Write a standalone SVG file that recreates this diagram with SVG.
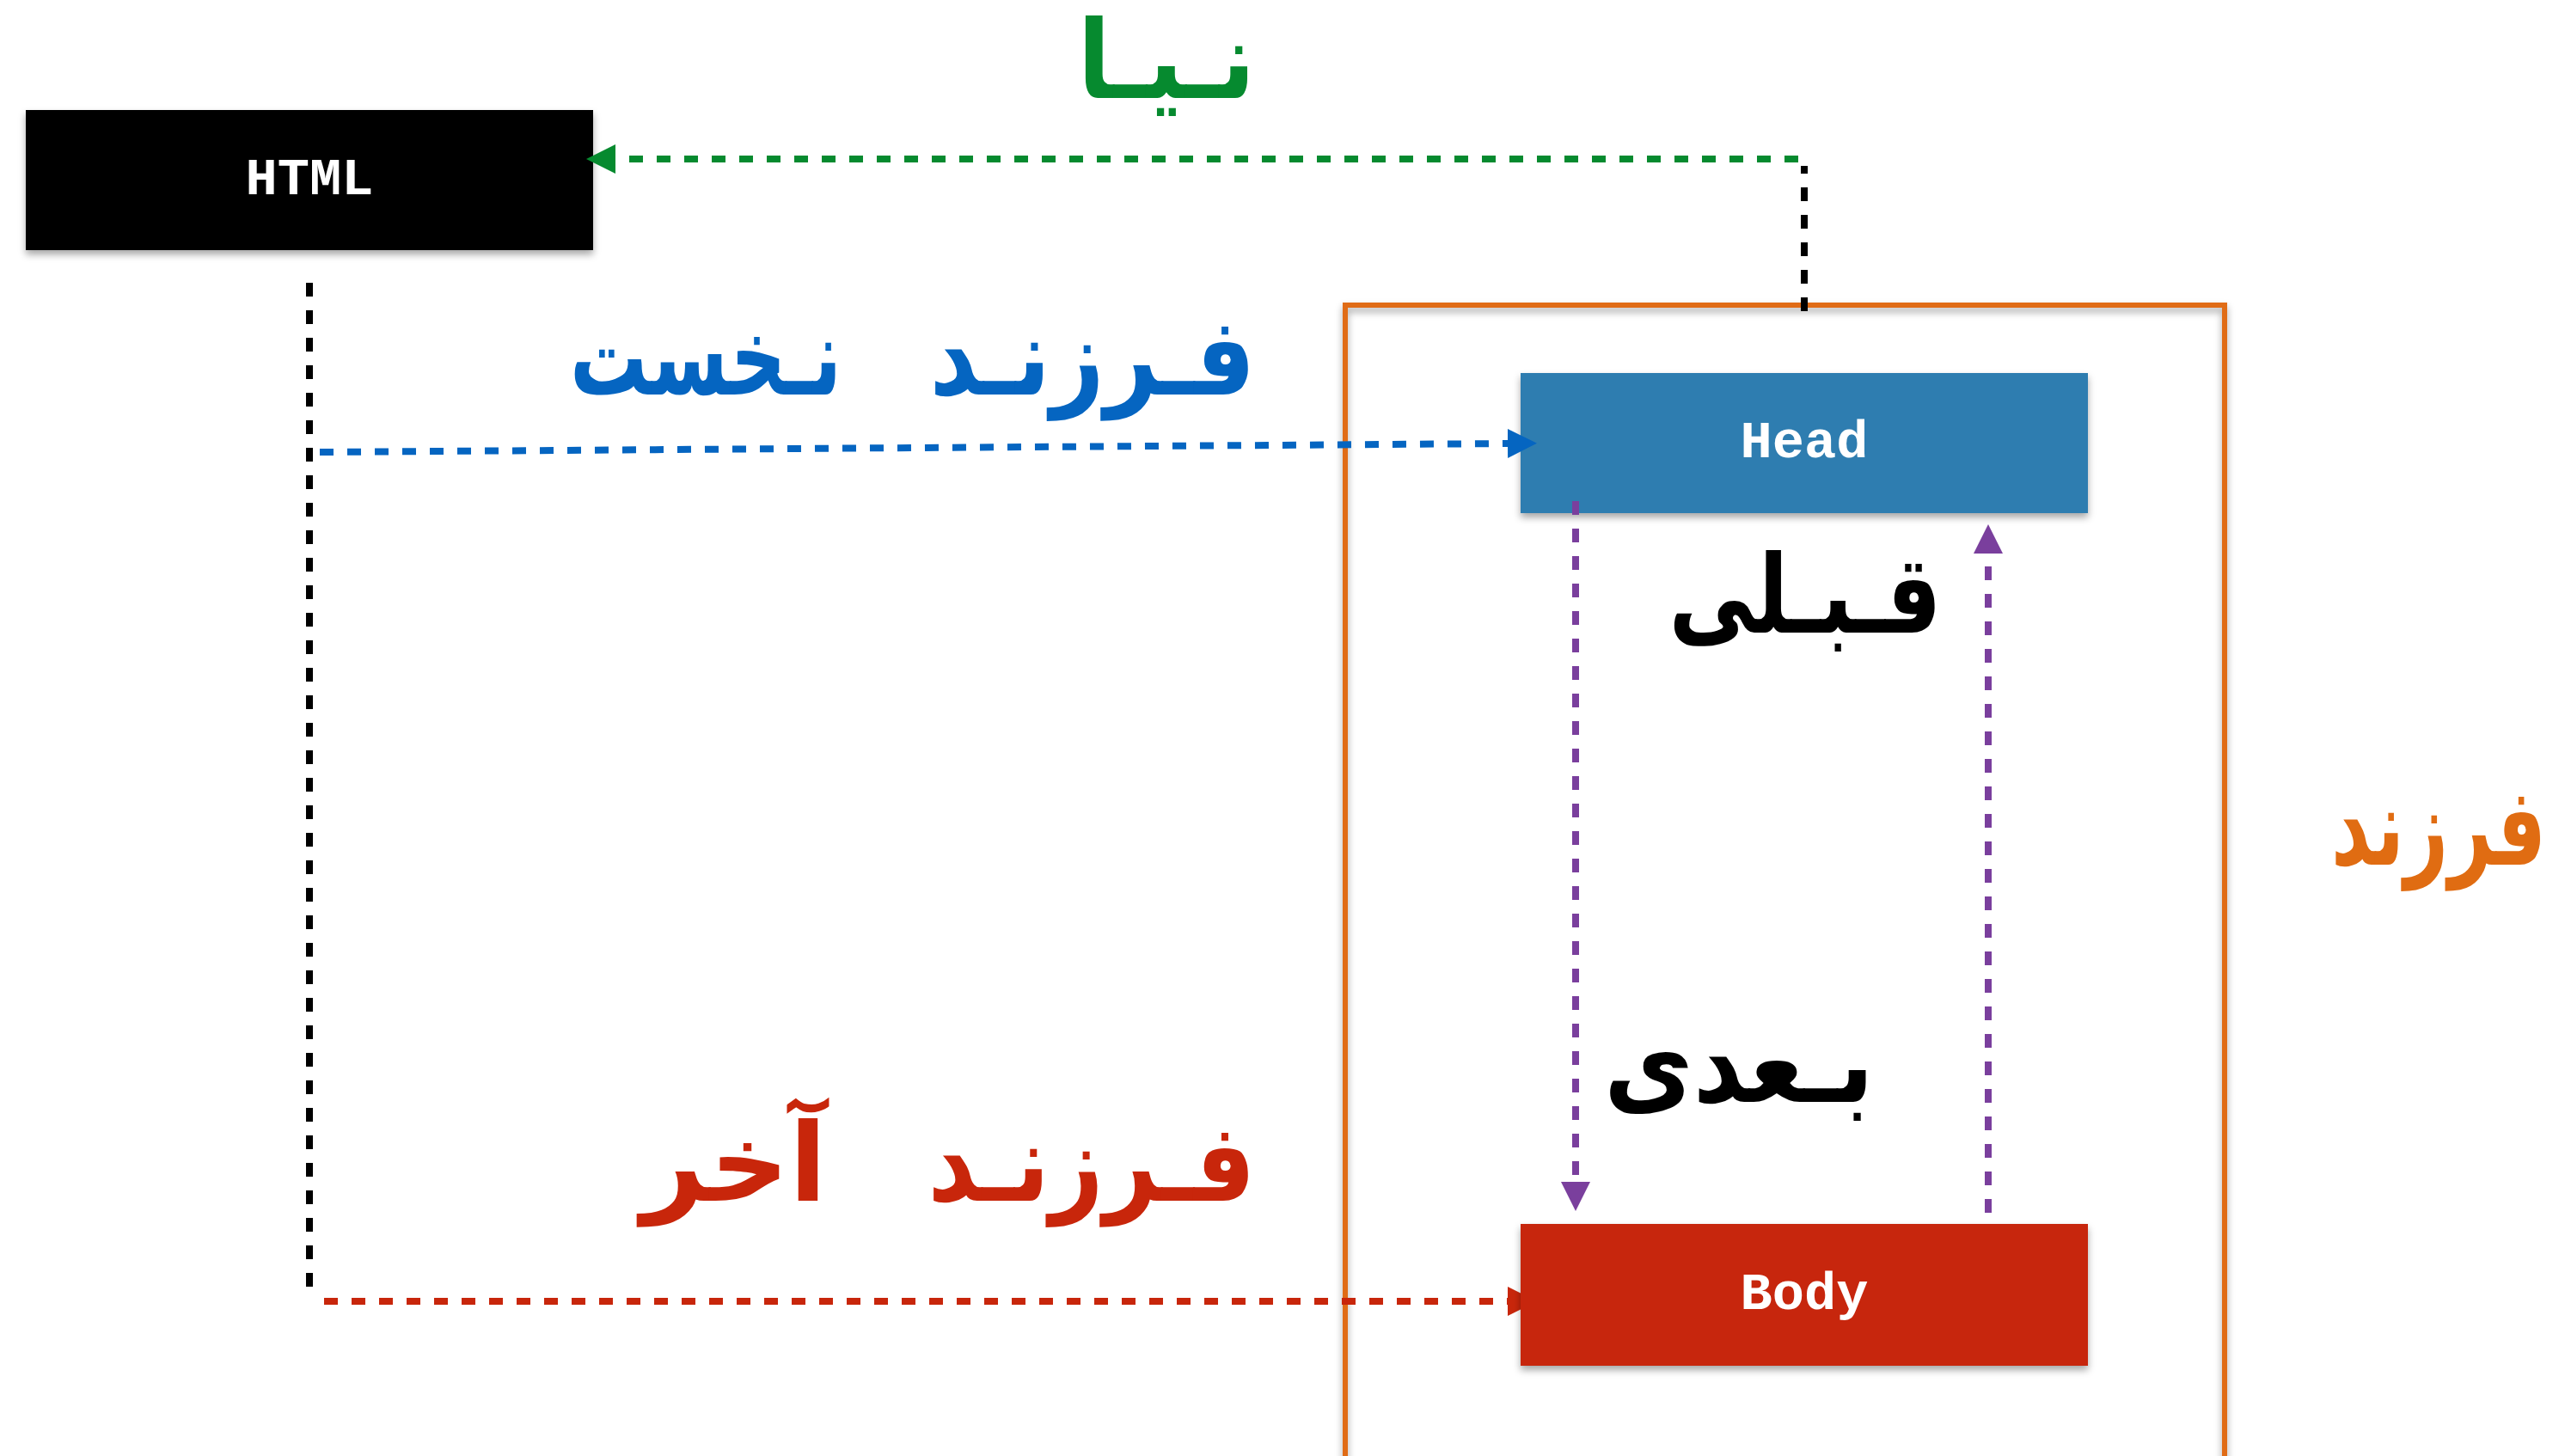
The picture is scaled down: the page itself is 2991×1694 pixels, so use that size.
<svg xmlns="http://www.w3.org/2000/svg" width="2991" height="1694" viewBox="0 0 2991 1694">
<style>
.box-label{font-family:"Liberation Mono","Courier New",monospace;font-weight:bold;font-size:62px;fill:#ffffff;text-anchor:middle}
.ar{font-family:"DejaVu Sans",sans-serif;font-weight:bold;font-size:126px;text-anchor:middle}
.dash{fill:none;stroke-width:8;stroke-dasharray:16 16}
</style>
<defs>
<filter id="sh" x="-5%" y="-10%" width="110%" height="130%">
<feDropShadow dx="0" dy="5" stdDeviation="4" flood-color="#000" flood-opacity="0.35"/>
</filter>
<marker id="arG" markerUnits="userSpaceOnUse" markerWidth="34" markerHeight="34" refX="0" refY="17" orient="auto"><path d="M0,0 L34,17 L0,34 z" fill="#068A2F"/></marker>
<marker id="arB" markerUnits="userSpaceOnUse" markerWidth="34" markerHeight="34" refX="0" refY="17" orient="auto"><path d="M0,0 L34,17 L0,34 z" fill="#0565C1"/></marker>
<marker id="arR" markerUnits="userSpaceOnUse" markerWidth="34" markerHeight="34" refX="0" refY="17" orient="auto"><path d="M0,0 L34,17 L0,34 z" fill="#C8260B"/></marker>
<marker id="arP" markerUnits="userSpaceOnUse" markerWidth="34" markerHeight="34" refX="0" refY="17" orient="auto"><path d="M0,0 L34,17 L0,34 z" fill="#7A3F9D"/></marker>
</defs>
<rect width="2991" height="1694" fill="#ffffff"/>

<g id="children-frame">
<rect x="1565" y="355" width="1023" height="1360" fill="none" stroke="#E06C12" stroke-width="6" filter="url(#sh)"/>
</g>

<g id="connectors-under">
<line class="dash" x1="377" y1="1514" x2="1754" y2="1514" stroke="#C8260B" marker-end="url(#arR)"/>
</g>

<g id="node-html">
<rect x="30" y="128" width="660" height="163" fill="#000000" filter="url(#sh)"/>
<text class="box-label" x="360" y="226">HTML</text>
</g>
<g id="node-head">
<rect x="1769" y="434" width="660" height="163" fill="#2E7DB0" filter="url(#sh)"/>
<text class="box-label" x="2099" y="532">Head</text>
</g>
<g id="node-body">
<rect x="1769" y="1424" width="660" height="165" fill="#C7260A" filter="url(#sh)"/>
<text class="box-label" x="2099" y="1523">Body</text>
</g>

<g id="connectors">
<line class="dash" x1="2099" y1="362" x2="2099" y2="193" stroke="#000000"/>
<line class="dash" x1="2092" y1="185" x2="716" y2="185" stroke="#068A2F" marker-end="url(#arG)"/>
<line class="dash" x1="360" y1="329" x2="360" y2="1500" stroke="#000000"/>
<line class="dash" x1="372" y1="526" x2="1754" y2="516" stroke="#0565C1" marker-end="url(#arB)"/>
<line class="dash" x1="1833" y1="583" x2="1833" y2="1375" stroke="#7A3F9D" marker-end="url(#arP)"/>
<line class="dash" x1="2313" y1="1411" x2="2313" y2="644" stroke="#7A3F9D" marker-end="url(#arP)"/>
</g>

<g id="labels">
<text class="ar" x="1357" y="114" fill="#068A2F" font-size="112" textLength="207" lengthAdjust="spacingAndGlyphs">نـیـا</text>
<text class="ar" x="1271" y="459" fill="#0565C1" textLength="379" lengthAdjust="spacingAndGlyphs">فـرزنـد</text>
<text class="ar" x="821" y="459" fill="#0565C1" textLength="316" lengthAdjust="spacingAndGlyphs">نـخست</text>
<text class="ar" x="1270" y="1397" fill="#C8260B" textLength="381" lengthAdjust="spacingAndGlyphs">فـرزنـد</text>
<text class="ar" x="854" y="1397" fill="#C8260B" textLength="216" lengthAdjust="spacingAndGlyphs">آخر</text>
<text class="ar" x="2100" y="736" fill="#000000" textLength="317" lengthAdjust="spacingAndGlyphs">قـبـلی</text>
<text class="ar" x="2023" y="1282" fill="#000000" textLength="314" lengthAdjust="spacingAndGlyphs">بـعدی</text>
<text class="ar" x="2962" y="1006" fill="#E06C12" font-size="116" style="text-anchor:end" textLength="250" lengthAdjust="spacingAndGlyphs">فرزند</text>
</g>
</svg>
